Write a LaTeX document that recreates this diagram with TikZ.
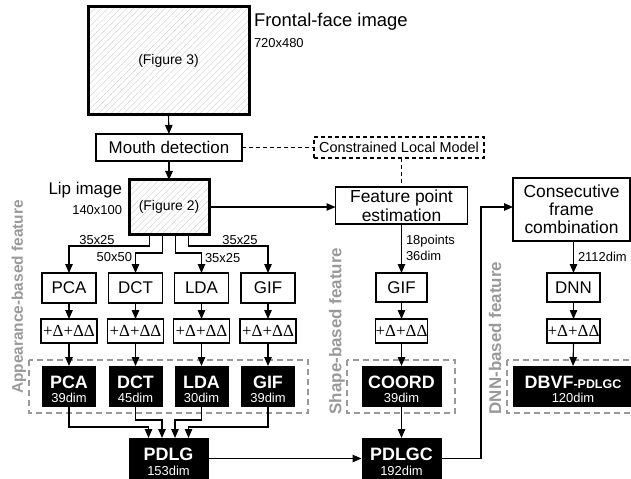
\documentclass[tikz,border=0pt]{standalone}
\usepackage{fontspec}
\setmainfont{Liberation Sans}
\newfontfamily\dserif{Liberation Serif}
\usetikzlibrary{arrows.meta,patterns.meta}
\newcommand\myfs[1]{\fontsize{#1}{#1}\selectfont}
\begin{document}
\begin{tikzpicture}[x=1bp,y=-1bp,
  every node/.style={inner sep=0,outer sep=0},
  wbox/.style={draw,line width=1.1bp,font=\myfs{17}},
  thickbox/.style={draw,line width=3bp,pattern={Lines[angle=45,distance=4.5bp,line width=0.5bp]},pattern color=black!16,font=\myfs{14}},
  bbox/.style={fill=black,minimum width=#1,minimum height=41bp},
  btitle/.style={text=white,font=\bfseries\myfs{18},anchor=base},
  bdim/.style={text=white,font=\myfs{13},anchor=base},
  small/.style={font=\myfs{13}},
  arr/.style={line width=1.1bp,-{Triangle[length=9bp,width=7.5bp]}},
  dline/.style={line width=1.1bp,dash pattern=on 4bp off 3bp},
  grpbox/.style={draw=black!40,line width=1.2bp,dash pattern=on 6bp off 4bp},
  side/.style={text=black!40,font=\bfseries\myfs{17},rotate=90},
  dbox/.style={wbox,font=\dserif\myfs{17},minimum height=24bp}
]
\useasboundingbox (0,0) rectangle (631,479);
\clip (0,0) rectangle (631,479);

% top part
\node[thickbox,minimum width=161bp,minimum height=108bp] (frontal) at (168.5,61) {(Figure 3)};
\node[anchor=west,font=\myfs{18.5}] (ftitle) at (254,22) {Frontal-face image};
\node[anchor=west,small] (fsize) at (254,43) {720x480};
\node[wbox,minimum width=146bp,minimum height=27bp] (mouth) at (169,147.5) {Mouth detection};
\node[thickbox,minimum width=80bp,minimum height=54bp] (lip) at (169,207) {(Figure 2)};
\node[anchor=east,font=\myfs{17}] (liplab) at (122,190) {Lip image};
\node[anchor=east,small] (lipsize) at (122,210) {140x100};
\node[draw,dline,minimum width=170bp,minimum height=21bp,font=\myfs{14.5}] (clm) at (399,147.5) {Constrained Local Model};
\node[wbox,minimum width=132bp,minimum height=37bp,align=center,font=\fontsize{17.5}{19}\selectfont] (feat) at (401.5,205.5) {Feature point\\estimation};
\node[wbox,minimum width=117bp,minimum height=63bp,align=center,font=\fontsize{17.5}{18}\selectfont] (consec) at (571.5,209.5) {Consecutive\\frame\\combination};

\draw[arr] (frontal.south) -- (mouth.north);
\draw[arr] (mouth.south) -- (lip.north);
\draw[arr] (lip.east) -- (lip.east -| feat.west);
\draw[dline] (mouth.east) -- (mouth.east -| clm.west);
\draw[dline] (feat.north |- clm.south) -- (feat.north);

% group boxes
\draw[grpbox] (29,360) rectangle (308,413);
\draw[grpbox] (347,360) rectangle (455,413);
\draw[grpbox] (507,360) rectangle (650,413);

% appearance columns
\foreach \n/\x/\t/\d in {pca/69/PCA/39,dct/135.5/DCT/45,lda/201.5/LDA/30,gif/268/GIF/39}{
  \node[wbox,minimum width=54bp,minimum height=30bp] (\n w) at (\x,288) {\t};
  \node[dbox,minimum width=56bp] (\n d) at (\x,331) {+Δ+ΔΔ};
  \node[bbox=54bp] (\n b) at (\x,386.5) {};
  \node[btitle] (\n t) at (\x,388) {\t};
  \node[bdim] (\n m) at (\x,402.5) {\d dim};
  \draw[arr] (\n w.south) -- (\n d.north);
  \draw[arr] (\n d.south) -- (\n b.north);
}
\draw[arr] ([xshift=-19.5bp]lip.south) -- ++(0,12) -| (pcaw.north);
\draw[arr] ([xshift=-6.5bp]lip.south) -- ++(0,19) -| (dctw.north);
\draw[arr] ([xshift=6.5bp]lip.south) -- ++(0,19) -| (ldaw.north);
\draw[arr] ([xshift=19.5bp]lip.south) -- ++(0,12) -| (gifw.north);
\node[small] (l1) at (97,240) {35x25};
\node[small,anchor=east] (l2) at (132,257.5) {50x50};
\node[small,anchor=west] (l3) at (205,258) {35x25};
\node[small] (l4) at (240,240) {35x25};

% PDLG
\node[bbox=80bp] (pdlg) at (168.5,458.5) {};
\node[btitle] (pdlgt) at (168.5,460) {PDLG};
\node[bdim] (pdlgm) at (168.5,475) {153dim};
\draw[arr] (pcab.south) -- ++(0,20) -| ([xshift=-20bp]pdlg.north);
\draw[arr] (dctb.south) -- ++(0,13) -| ([xshift=-6.5bp]pdlg.north);
\draw[arr] (ldab.south) -- ++(0,13) -| ([xshift=6.5bp]pdlg.north);
\draw[arr] (gifb.south) -- ++(0,20) -| ([xshift=20bp]pdlg.north);

% shape column
\node[wbox,minimum width=51bp,minimum height=29bp] (gifs) at (401.5,287.5) {GIF};
\node[dbox,minimum width=51bp] (deltas) at (401.5,331) {+Δ+ΔΔ};
\node[bbox=80bp] (coord) at (401.5,386.5) {};
\node[btitle] (coordt) at (401.5,388) {COORD};
\node[bdim] (coordm) at (401.5,402.5) {39dim};
\node[bbox=80bp] (pdlgc) at (401.5,458.5) {};
\node[btitle] (pdlgct) at (401.5,460) {PDLGC};
\node[bdim] (pdlgcm) at (401.5,475) {192dim};
\draw[arr] (feat.south) -- (gifs.north);
\node[small,anchor=west] (pts) at (406,241) {18points};
\node[small,anchor=west] (pdim) at (406,256) {36dim};
\draw[arr] (gifs.south) -- (deltas.north);
\draw[arr] (deltas.south) -- (coord.north);
\draw[arr] (coord.south) -- (pdlgc.north);
\draw[arr] (pdlg.east) -- (pdlgc.west);

% DNN column
\coordinate (turn) at (481,207);
\draw[arr] (pdlgc.east) -| (turn) -- (turn -| consec.west);
\node[wbox,minimum width=53bp,minimum height=29bp] (dnn) at (573.5,287.5) {DNN};
\node[dbox,minimum width=53bp] (deltad) at (573.5,331) {+Δ+ΔΔ};
\node[bbox=120bp] (dbvf) at (573,386.5) {};
\node[text=white,anchor=base] (dbvft) at (573,388) {{\bfseries\myfs{18}DBVF}{\bfseries\myfs{12.5}-PDLGC}};
\node[bdim] (dbvfm) at (573,402.5) {120dim};
\draw[arr] (dnn.north |- consec.south) -- (dnn.north);
\node[small,anchor=west] (d2112) at (578,257) {2112dim};
\draw[arr] (dnn.south) -- (deltad.north);
\draw[arr] (deltad.south) -- (dbvf.north);

% side labels
\node[side,font=\bfseries\myfs{15.5}] (sa) at (19,297) {Appearance-based feature};
\node[side] (ss) at (337,331) {Shape-based feature};
\node[side] (sd) at (495,338) {DNN-based feature};
\end{tikzpicture}
\end{document}
